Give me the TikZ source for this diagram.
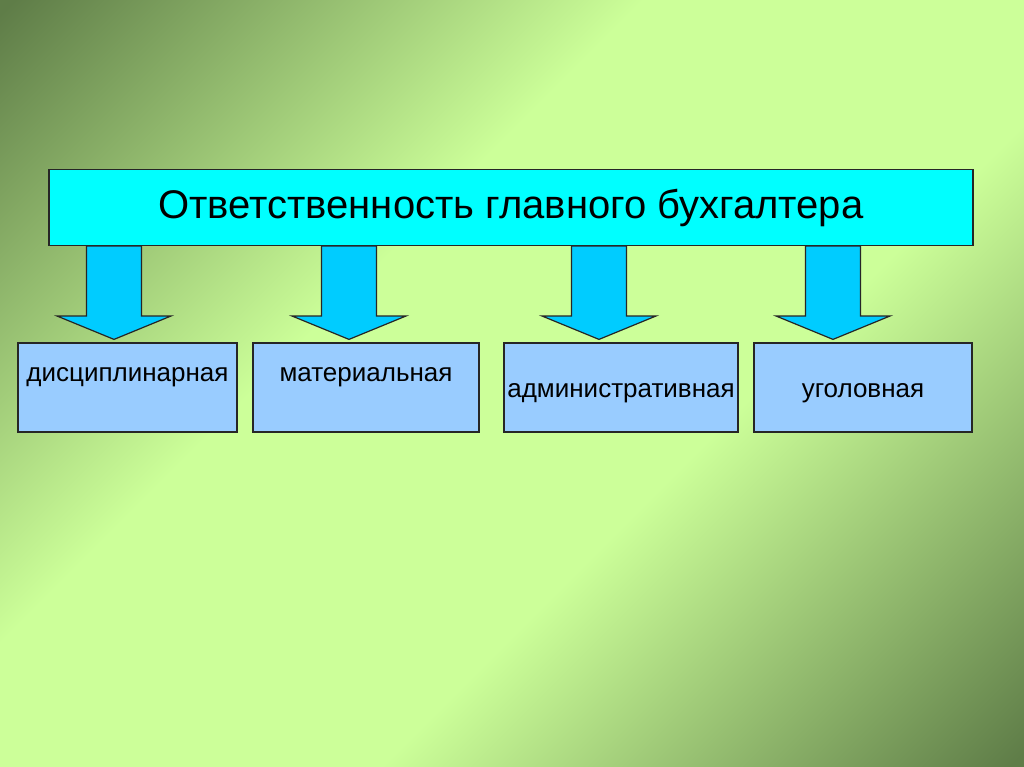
\documentclass[tikz,border=0pt]{standalone}
\usepackage{fontspec}
\setmainfont{Liberation Sans}
\usetikzlibrary{positioning}
\definecolor{bgdark}{RGB}{95,125,72}
\definecolor{bglight}{RGB}{204,255,153}
\definecolor{headcyan}{RGB}{0,255,255}
\definecolor{arrowblue}{RGB}{0,204,255}
\definecolor{boxblue}{RGB}{153,204,255}
\pgfdeclarehorizontalshading{bgshade}{100bp}{color(0bp)=(bgdark); color(15bp)=(bgdark);
  color(40bp)=(bglight); color(60bp)=(bglight); color(85bp)=(bgdark); color(100bp)=(bgdark)}

\begin{document}
\begin{tikzpicture}[x=1pt,y=-1pt,
    title node/.style={rectangle,draw=black!85,line width=1.2pt,fill=headcyan,
      minimum width=924pt,minimum height=76pt,inner sep=0pt,font=\fontsize{40}{48}\selectfont},
    kind node/.style={rectangle,draw=black!85,line width=1.2pt,fill=boxblue,
      minimum height=89pt,inner sep=0pt,text height=19pt,font=\fontsize{26}{32}\selectfont},
    block arrow/.style={draw=black!85,line width=1.2pt,fill=arrowblue,line join=miter}]

  \shade[shading=bgshade,shading angle=-45] (0,0) rectangle (1024,767);
  \useasboundingbox (0,0) rectangle (1024,767);

  \node[title node] (title) at (511,207.5) {Ответственность главного бухгалтера};

  \node[kind node,minimum width=219pt,text depth=32pt] (dis) at (127.5,387.5) {дисциплинарная};
  \node[kind node,minimum width=226pt,text depth=32pt] (mat) at (366,387.5) {материальная};
  \node[kind node,minimum width=234pt,text depth=0pt] (adm) at (621,387.5) {административная};
  \node[kind node,minimum width=218pt,text depth=0pt] (ugo) at (863,387.5) {уголовная};

  \foreach \x/\b in {114/dis,349/mat,599/adm,833/ugo} {
    \coordinate (\b tip) at ([yshift=3pt]\b.north);
    \draw[block arrow] ({\x-27.5},0 |- title.south) -- ({\x-27.5},316) -- ({\x-57},316)
      -- (\x,0 |- \b tip) -- ({\x+57},316) -- ({\x+27.5},316)
      -- ({\x+27.5},0 |- title.south) -- cycle;
  }
\end{tikzpicture}
\end{document}
